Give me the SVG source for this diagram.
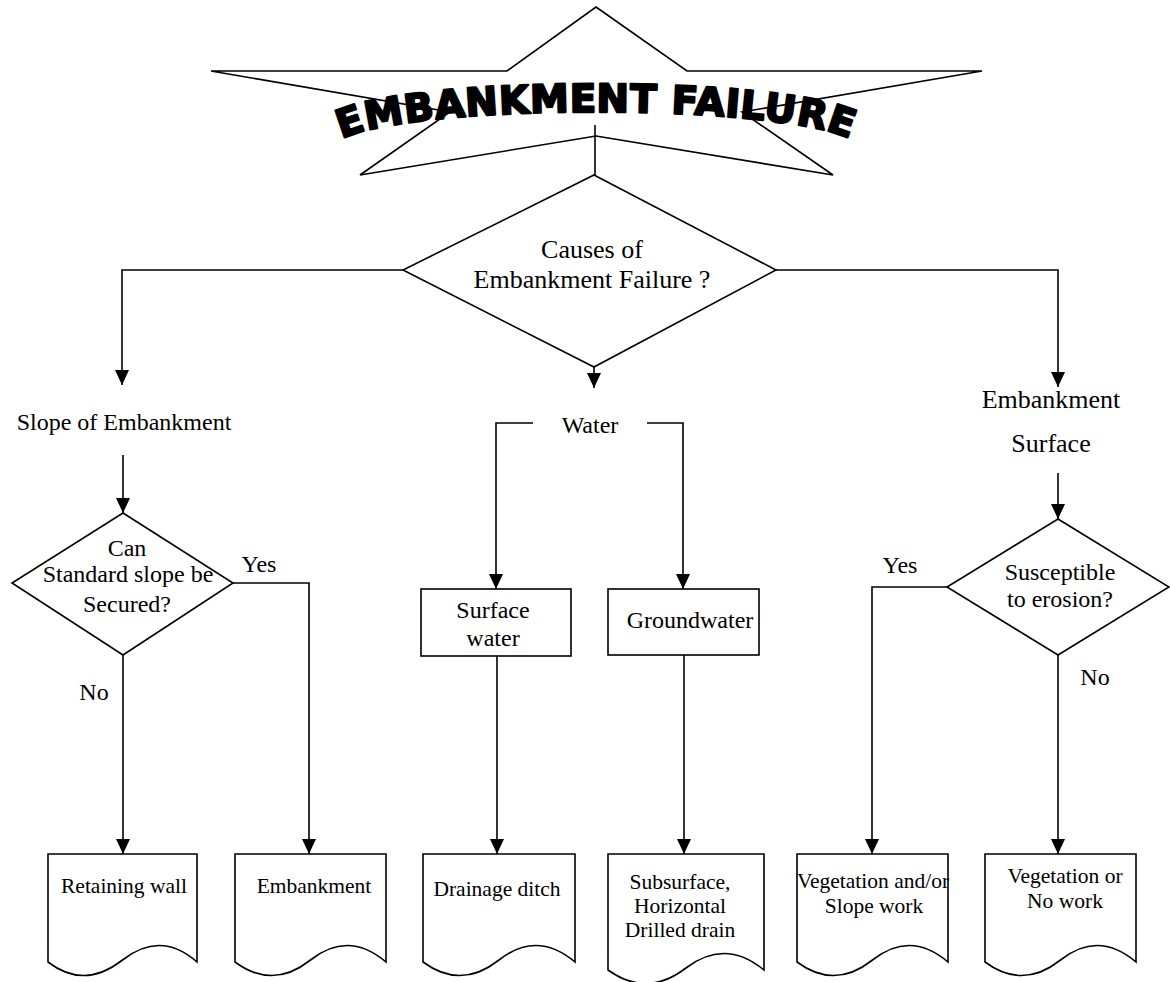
<svg xmlns="http://www.w3.org/2000/svg" width="1170" height="982" viewBox="0 0 1170 982">
<style>
  .ln{fill:none;stroke:#000;stroke-width:1.6}
  .sh{fill:#fff;stroke:#000;stroke-width:1.6}
  .t{font-family:"Liberation Serif","Times New Roman",serif;fill:#000;text-anchor:middle}
  .t26{font-size:26px}
  .t24{font-size:24px}
  .t21{font-size:21.5px}
  .title{font-family:"DejaVu Sans","Liberation Sans",sans-serif;font-weight:bold;font-size:39px;fill:#000;stroke:#000;stroke-width:2.2;stroke-linejoin:round;letter-spacing:0.5px}
</style>
<defs>
  <marker id="ah" markerUnits="userSpaceOnUse" markerWidth="16" markerHeight="15" refX="15" refY="7" orient="auto">
    <path d="M0,0 L15,7 L0,14 Z" fill="#000"/>
  </marker>
  <path id="arc" d="M 336,147 A 260 35 0 0 1 856,147"/>
</defs>
<rect width="1170" height="982" fill="#fff"/>

<g id="title">
  <polygon class="sh" points="596,7 687,71 982,71 742,112 833,175 596,136 360,175 450,112 211,71 507,71"/>
  <text class="title" text-anchor="middle"><textPath href="#arc" startOffset="50%">EMBANKMENT FAILURE</textPath></text>
</g>

<g id="connectors" class="ln">
  <path class="ln" d="M595,125 V194" marker-end="url(#ah)"/>
  <path class="ln" d="M594,367 V388" marker-end="url(#ah)"/>
  <path class="ln" d="M403,270 H122 V385" marker-end="url(#ah)"/>
  <path class="ln" d="M776,270 H1058 V387" marker-end="url(#ah)"/>
  <path class="ln" d="M123,455 V513" marker-end="url(#ah)"/>
  <path class="ln" d="M233,583 H309 V854" marker-end="url(#ah)"/>
  <path class="ln" d="M123,655 V854" marker-end="url(#ah)"/>
  <path class="ln" d="M533,423 H496 V589" marker-end="url(#ah)"/>
  <path class="ln" d="M647,423 H683 V589" marker-end="url(#ah)"/>
  <path class="ln" d="M497,656 V854" marker-end="url(#ah)"/>
  <path class="ln" d="M684,655 V854" marker-end="url(#ah)"/>
  <path class="ln" d="M1058,473 V519" marker-end="url(#ah)"/>
  <path class="ln" d="M947,587 H872 V854" marker-end="url(#ah)"/>
  <path class="ln" d="M1058,655 V854" marker-end="url(#ah)"/>
</g>

<g id="causes">
  <polygon class="sh" points="594,175 776,270 594,367 403,270"/>
  <text class="t t26" x="592" y="258">Causes of</text>
  <text class="t t26" x="592" y="288">Embankment Failure ?</text>
</g>

<g id="slope">
  <text class="t t24" x="124" y="430">Slope of Embankment</text>
</g>

<g id="water">
  <text class="t t24" x="590" y="433">Water</text>
</g>

<g id="surface">
  <text class="t t26" x="1051" y="408">Embankment</text>
  <text class="t t26" x="1051" y="452">Surface</text>
</g>

<g id="standard">
  <polygon class="sh" points="123,513 233,583 123,655 12,583"/>
  <text class="t t24" x="127" y="556">Can</text>
  <text class="t t24" x="128" y="582">Standard slope be</text>
  <text class="t t24" x="127" y="612">Secured?</text>
  <text class="t t24" x="259" y="572">Yes</text>
  <text class="t t24" x="94" y="700">No</text>
</g>

<g id="erosion">
  <polygon class="sh" points="1058,519 1169,587 1058,655 947,587"/>
  <text class="t t24" x="1060" y="580">Susceptible</text>
  <text class="t t24" x="1060" y="607">to erosion?</text>
  <text class="t t24" x="900" y="573">Yes</text>
  <text class="t t24" x="1095" y="685">No</text>
</g>

<g id="surfacewater">
  <rect class="sh" x="421" y="589" width="150" height="67"/>
  <text class="t t24" x="493" y="618">Surface</text>
  <text class="t t24" x="493" y="646">water</text>
</g>

<g id="groundwater">
  <rect class="sh" x="608" y="589" width="151" height="66"/>
  <text class="t t24" x="690" y="628">Groundwater</text>
</g>

<g id="doc-retaining">
  <path class="sh" d="M48,962 V854 H197 V962 Q160.75,930 122.5,960 T48,962 Z"/>
  <text class="t t21" x="124" y="893">Retaining wall</text>
</g>

<g id="doc-embankment">
  <path class="sh" d="M235,962 V854 H386 V962 Q348.25,930 310.5,960 T235,962 Z"/>
  <text class="t t21" x="314" y="893">Embankment</text>
</g>

<g id="doc-drainage">
  <path class="sh" d="M423,962 V854 H575 V962 Q537,930 499,960 T423,962 Z"/>
  <text class="t t21" x="497" y="896">Drainage ditch</text>
</g>

<g id="doc-subsurface">
  <path class="sh" d="M608,970 V854 H764 V970 Q725,938 686,968 T608,970 Z"/>
  <text class="t t21" x="680" y="889">Subsurface,</text>
  <text class="t t21" x="680" y="913">Horizontal</text>
  <text class="t t21" x="680" y="937">Drilled drain</text>
</g>

<g id="doc-vegetation-slope">
  <path class="sh" d="M797,962 V854 H948 V962 Q910.25,930 872.5,960 T797,962 Z"/>
  <text class="t t21" x="873" y="888">Vegetation and/or</text>
  <text class="t t21" x="874" y="913">Slope work</text>
</g>

<g id="doc-vegetation-no">
  <path class="sh" d="M985,962 V854 H1136 V962 Q1098.25,930 1060.5,960 T985,962 Z"/>
  <text class="t t21" x="1065" y="883">Vegetation or</text>
  <text class="t t21" x="1065" y="908">No work</text>
</g>
</svg>
